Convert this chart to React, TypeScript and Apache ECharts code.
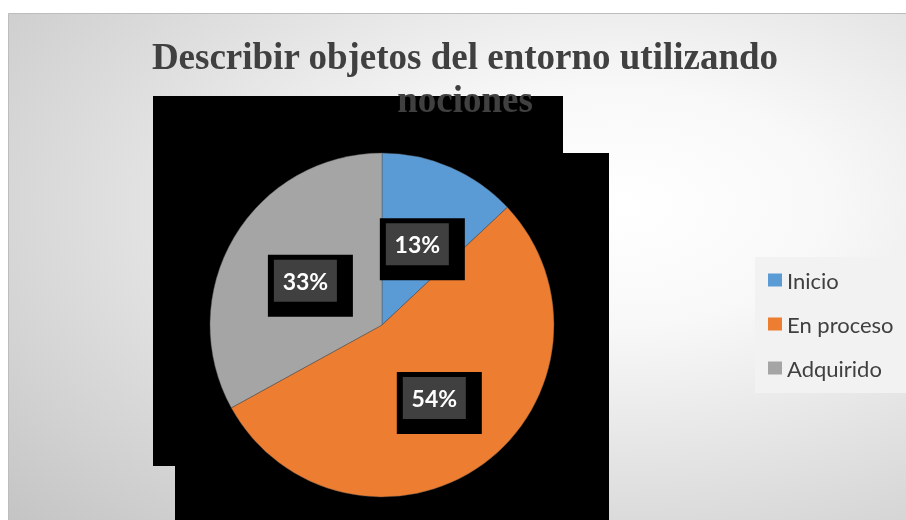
import React, { useEffect, useRef } from "react";
import * as echarts from "echarts";

const titleLines = ["Describir objetos del entorno utilizando", "nociones"];
const categories = ["Inicio", "En proceso", "Adquirido"];
const values = [13, 54, 33];
const colors = ["#5B9BD5", "#ED7D31", "#A5A5A5"];

export default function App() {
  const ref = useRef<HTMLDivElement>(null);
  useEffect(() => {
    if (!ref.current) return;
    const chart = echarts.init(ref.current, null, { renderer: "svg" });
    const data = categories.map((name, i) => ({
      name,
      value: values[i],
      itemStyle: { color: colors[i] },
    }));
    chart.setOption({
      animation: false,
      graphic: [
        {
          type: "rect",
          z: 0,
          shape: { x: 8.5, y: 13.5, width: 898, height: 507 },
          style: {
            fill: {
              type: "radial",
              x: 0.68,
              y: 0.38,
              r: 0.95,
              colorStops: [
                { offset: 0, color: "#ffffff" },
                { offset: 0.25, color: "#f8f8f8" },
                { offset: 1, color: "#c2c2c2" },
              ],
            },
            stroke: "#bdbdbd",
            lineWidth: 1,
          },
        },
        { type: "rect", z: 1, shape: { x: 153, y: 96, width: 410, height: 370 }, style: { fill: "#000" } },
        { type: "rect", z: 1, shape: { x: 175, y: 153, width: 434, height: 367 }, style: { fill: "#000" } },
        { type: "rect", z: 1, shape: { x: 755, y: 257, width: 151, height: 136 }, style: { fill: "#f2f2f2" } },
        {
          type: "text",
          z: 10,
          x: 465,
          y: 56,
          style: {
            text: titleLines[0],
            fill: "#404040",
            font: "bold 37px 'Liberation Serif', 'Times New Roman', serif",
            textAlign: "center",
            textVerticalAlign: "middle",
          },
        },
        {
          type: "text",
          z: 10,
          x: 465,
          y: 99,
          style: {
            text: titleLines[1],
            fill: "#404040",
            font: "bold 37px 'Liberation Serif', 'Times New Roman', serif",
            textAlign: "center",
            textVerticalAlign: "middle",
          },
        },
      ],
      legend: {
        orient: "vertical",
        left: 755,
        top: 257,
        padding: [12, 13, 13, 13],
        itemWidth: 14,
        itemHeight: 13,
        itemGap: 22,
        icon: "rect",
        selectedMode: false,
        data: categories,
        itemStyle: { borderWidth: 0 },
        textStyle: { color: "#404040", fontSize: 22, fontFamily: "Lato", lineHeight: 22 },
      },
      series: [
        {
          type: "pie",
          center: [382, 325],
          radius: [0, 172],
          startAngle: 90,
          clockwise: true,
          silent: true,
          labelLine: { show: false },
          data,
          itemStyle: { borderColor: "rgba(80,80,80,0.7)", borderWidth: 0.6 },
          label: {
            show: true,
            position: "inside",
            formatter: "{a|{d}%}",
            backgroundColor: "#000",
            padding: [5, 16, 15, 6],
            rich: {
              a: {
                color: "#ffffff",
                fontSize: 23,
                fontFamily: "Lato",
                fontWeight: "bold",
                backgroundColor: "#404040",
                width: 63,
                height: 42,
                lineHeight: 42,
                align: "center",
                verticalAlign: "middle",
              },
            },
          },
          labelLayout: { dx: 5, dy: 6 },
        },
      ],
    });
    return () => chart.dispose();
  }, []);
  return (
    <div
      ref={ref}
      style={{ position: "fixed", left: 0, top: 0, width: 906, height: 520 }}
    />
  );
}
